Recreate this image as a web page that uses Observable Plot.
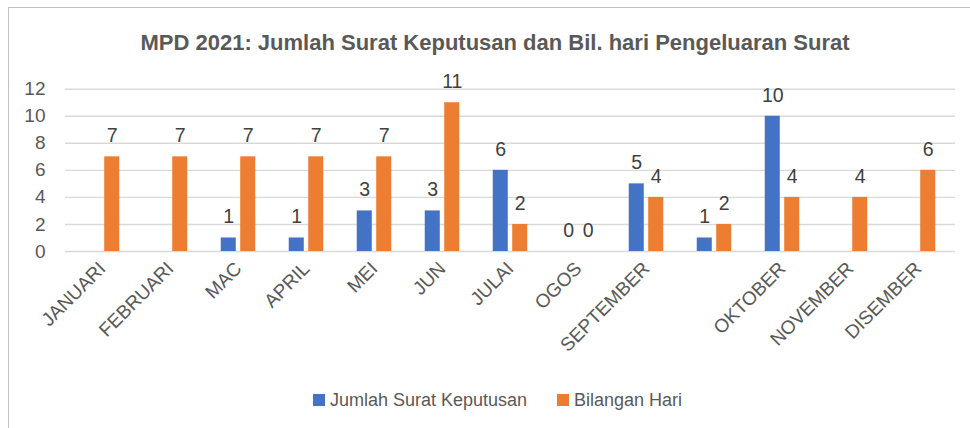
<!DOCTYPE html>
<html><head><meta charset="utf-8">
<script src="https://cdn.jsdelivr.net/npm/d3@7"></script>
<script src="https://cdn.jsdelivr.net/npm/@observablehq/plot@0.6"></script>
<style>
body{margin:0;background:#fff;font-family:"Liberation Sans",Arial,sans-serif;overflow:hidden;width:970px;height:428px;position:relative;}
#frame{position:absolute;left:8px;top:7px;width:1000px;height:460px;border:1px solid #bfbfbf;box-sizing:border-box;}
#title{position:absolute;left:0;top:32px;width:990px;text-align:center;font-size:22px;line-height:22px;font-weight:bold;color:#595959;white-space:nowrap;}
#chart{position:absolute;left:0;top:60px;}
#legend{position:absolute;left:0;top:391px;width:995px;display:flex;justify-content:center;font-size:18px;line-height:18px;color:#595959;}
#legend .item{display:flex;align-items:center;margin:0 15px;}
#legend .sw{width:12px;height:12px;margin-right:5px;}
</style></head>
<body>
<div id="frame"></div>
<div id="title"></div>
<div id="chart"></div>
<div id="legend"></div>
<script>
const titleText = "MPD 2021: Jumlah Surat Keputusan dan Bil. hari Pengeluaran Surat";
const categories = ["JANUARI","FEBRUARI","MAC","APRIL","MEI","JUN","JULAI","OGOS","SEPTEMBER","","OKTOBER","NOVEMBER","DISEMBER"];
const seriesNames = ["Jumlah Surat Keputusan","Bilangan Hari"];
const seriesColors = ["#4472C4","#ED7D31"];
const jumlahSurat = [null,null,1,1,3,3,6,0,5,1,10,null,null];
const bilanganHari = [7,7,7,7,7,11,2,0,4,2,4,4,6];
const yTicks = [0,2,4,6,8,10,12];

document.getElementById("title").textContent = titleText;

const toRows = vals => categories.map((c,i)=>({month:c, value:vals[i]})).filter(d=>d.value!=null);
const blue = toRows(jumlahSurat);
const orange = toRows(bilanganHari);

const W = 970, ML = 65, MR = 15;
const bw = (W - ML - MR) / categories.length;
const barW = 15.5, gap = 4;

const chart = Plot.plot({
  width: W,
  height: 310,
  marginLeft: ML,
  marginRight: MR,
  marginTop: 28.7,
  marginBottom: 119,
  style: {fontFamily: '"Liberation Sans", Arial, sans-serif', fontSize: "19px", color: "#595959", background: "transparent", overflow: "visible"},
  x: {domain: categories, padding: 0, tickSize: 0, tickRotate: -45, tickPadding: 14, label: null},
  y: {domain: [0,12], ticks: yTicks, tickSize: 0, tickPadding: 20, label: null},
  marks: [
    Plot.ruleY(yTicks, {stroke: "#d9d9d9", strokeWidth: 1.4}),
    Plot.barY(blue, {x: "month", y: "value", fill: seriesColors[0], insetLeft: bw/2 - barW - gap/2, insetRight: bw/2 + gap/2}),
    Plot.barY(orange, {x: "month", y: "value", fill: seriesColors[1], insetLeft: bw/2 + gap/2, insetRight: bw/2 - barW - gap/2}),
    Plot.text(blue, {x: "month", y: "value", text: d => String(d.value), dx: -(barW + gap)/2, dy: -21, fill: "#404040", fontSize: 19.5}),
    Plot.text(orange, {x: "month", y: "value", text: d => String(d.value), dx: (barW + gap)/2, dy: -21, fill: "#404040", fontSize: 19.5})
  ]
});
document.getElementById("chart").appendChild(chart);

const legend = document.getElementById("legend");
seriesNames.forEach((n,i)=>{
  const it = document.createElement("div"); it.className="item";
  const sw = document.createElement("div"); sw.className="sw"; sw.style.background = seriesColors[i];
  const tx = document.createElement("span"); tx.textContent = n;
  it.appendChild(sw); it.appendChild(tx); legend.appendChild(it);
});
</script>
</body></html>
